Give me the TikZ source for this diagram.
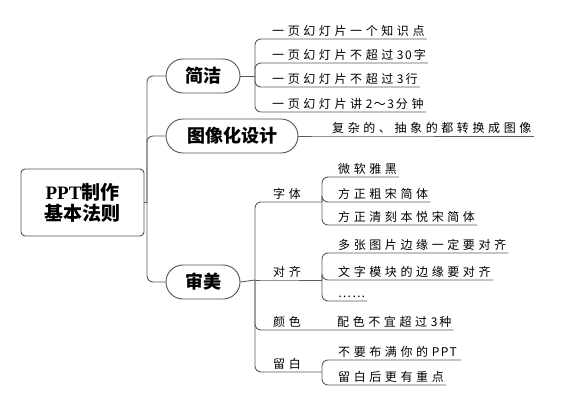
\documentclass[tikz,border=0pt]{standalone}
\usepackage{fontspec}
\setmainfont{Noto Sans CJK SC}
\newfontfamily\leaffont[LetterSpace=30]{Noto Sans CJK SC}
\newfontfamily\numfont[LetterSpace=12]{Noto Sans CJK SC}
\newfontfamily\romanbold{Liberation Serif}
\newcommand{\latinrun}[1]{\kern3.6pt{\numfont #1}\kern2pt}
\usepackage{xcolor}
\usetikzlibrary{positioning}
\definecolor{linegray}{HTML}{5A5A5A}
\definecolor{boxgray}{HTML}{505050}

\begin{document}
\begin{tikzpicture}[x=1pt,y=-1pt,
	link/.style={line width=0.9pt, draw=linegray, rounded corners=6pt},
	pill/.style={draw=boxgray, line width=0.9pt, rounded corners=17pt, minimum height=34pt, inner xsep=0pt, font=\fontsize{18}{20}\selectfont\bfseries},
	leaf/.style={anchor=south west, inner xsep=2pt, inner ysep=2pt, text height=10pt, text depth=1.5pt, font=\leaffont\fontsize{12}{14}\selectfont}]
	\useasboundingbox (0,0) rectangle (566,405);
	% root and main branches
	\node [draw=boxgray, line width=0.9pt, rounded corners=4pt, minimum width=123pt, minimum height=67pt, align=center, font=\fontsize{19}{21}\selectfont\bfseries] (root) at (82.5,202.5) {{\romanbold\bfseries PPT}制作\\基本法则};
	\node [pill, minimum width=74pt] (jianjie) at (203,76) {简洁};
	\node [pill, minimum width=132pt] (tuxiang) at (232,136) {图像化设计};
	\node [pill, minimum width=74pt] (shenmei) at (203,282) {审美};
	\coordinate (trunk) at (147,202.5);
	\draw [link] (root.east) -- (trunk);
	\foreach \b in {jianjie,tuxiang,shenmei}
		\draw [link] (trunk) |- (\b.west);
	% jianjie
	\node [leaf] (l1) at (270,39) {一页幻灯片一个知识点};
	\node [leaf] (l2) at (270,63) {一页幻灯片不超过\latinrun{30}字};
	\node [leaf] (l3) at (270,87) {一页幻灯片不超过\latinrun{3}行};
	\node [leaf] (l4) at (270,112) {一页幻灯片讲\latinrun{2～3}分钟};
	\coordinate (jj) at (255,76);
	\draw [link] (jianjie.east) -- (jj);
	\foreach \n in {l1,l2,l3,l4}
		\draw [link] (jj) |- (\n.south west) -- (\n.south east);
	% tuxiang
	\node [leaf] (fz) at (330,136) {复杂的、抽象的都转换成图像};
	\draw [link] (tuxiang.east) -- (fz.south west) -- (fz.south east);
	% shenmei
	\node [leaf] (zt) at (271,202) {字体};
	\node [leaf] (dq) at (271,280) {对齐};
	\node [leaf] (ys) at (271,330) {颜色};
	\node [leaf] (lb) at (271,372) {留白};
	\coordinate (js) at (255,280);
	\coordinate (jzt) at (322,202);
	\coordinate (jdq) at (322,280);
	\coordinate (jlb) at (322,372);
	\draw [link] (shenmei.east) -- (js);
	\draw [link] (js) |- (zt.south west) -- (jzt);
	\draw [link] (js) -- (dq.south west) -- (jdq);
	\draw [link] (js) |- (lb.south west) -- (jlb);
	\node [leaf] (f1) at (336,177) {微软雅黑};
	\node [leaf] (f2) at (336,202) {方正粗宋简体};
	\node [leaf] (f3) at (336,225) {方正清刻本悦宋简体};
	\foreach \n in {f1,f2,f3}
		\draw [link] (jzt) |- (\n.south west) -- (\n.south east);
	\node [leaf] (d1) at (336,253) {多张图片边缘一定要对齐};
	\node [leaf] (d2) at (336,280) {文字模块的边缘要对齐};
	\node [leaf] (d3) at (336,301) {{\numfont ……}};
	\foreach \n in {d1,d2,d3}
		\draw [link] (jdq) |- (\n.south west) -- (\n.south east);
	\node [leaf] (pz) at (335,330) {配色不宜超过\latinrun{3}种};
	\draw [link] (js) |- (ys.south west) -- (pz.south west) -- (pz.south east);
	\node [leaf] (b1) at (336,360) {不要布满你的\latinrun{PPT}};
	\node [leaf] (b2) at (336,385) {留白后更有重点};
	\foreach \n in {b1,b2}
		\draw [link] (jlb) |- (\n.south west) -- (\n.south east);
\end{tikzpicture}
\end{document}
